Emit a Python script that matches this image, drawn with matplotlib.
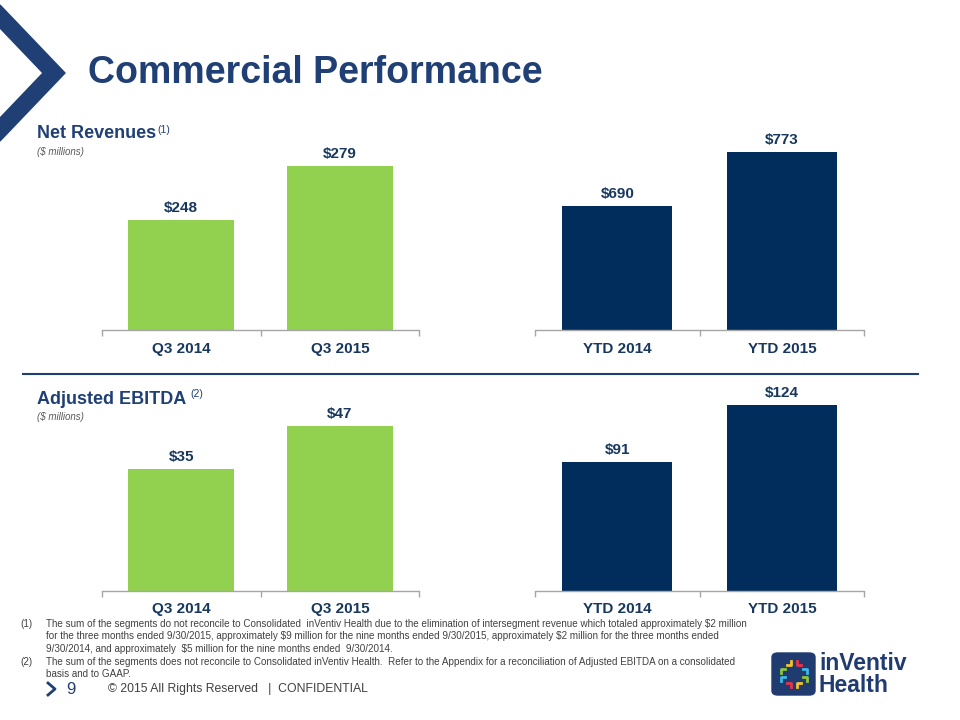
import matplotlib.pyplot as plt
from matplotlib.patches import Polygon, FancyBboxPatch
from matplotlib.lines import Line2D

plt.rcParams['font.family'] = ['Liberation Sans', 'DejaVu Sans']

# data
qtr_labels = ["Q3 2014", "Q3 2015"]
ytd_labels = ["YTD 2014", "YTD 2015"]
rev_qtr = [248, 279]
rev_ytd = [690, 773]
ebitda_qtr = [35, 47]
ebitda_ytd = [91, 124]

NAVY = "#1F3F75"
TXT = "#17375E"
GREEN = "#92D050"
DARK = "#002D5C"

W, H = 960, 720
fig = plt.figure(figsize=(9.6, 7.2), dpi=100)


def px(x, y):
    return x / W, 1 - y / H


def make_ax(left, right, top, bottom, ylim):
    ax = fig.add_axes([left / W, 1 - bottom / H, (right - left) / W, (bottom - top) / H])
    ax.set_xlim(-0.5, 1.5)
    ax.set_ylim(*ylim)
    for s in ["top", "left", "right"]:
        ax.spines[s].set_visible(False)
    ax.spines["bottom"].set_color("#A6A6A6")
    ax.spines["bottom"].set_linewidth(1)
    ax.set_yticks([])
    return ax


def draw(ax, labels, vals, color, pad):
    ax.bar(range(len(vals)), vals, width=0.667, color=color, bottom=0)
    ax.set_xticks(range(len(vals)))
    ax.set_xticklabels(labels, fontsize=11, fontweight="bold", color=TXT)
    ax.tick_params(axis="x", which="major", length=0, pad=pad)
    ax.set_xticks([-0.5, 0.5, 1.5], minor=True)
    ax.tick_params(axis="x", which="minor", length=4, color="#A6A6A6", width=1)
    for i, v in enumerate(vals):
        ax.annotate(f"${v}", (i, v), xytext=(0, 4), textcoords="offset points",
                    ha="center", va="bottom", fontsize=11, fontweight="bold",
                    color=TXT, annotation_clip=False)


ax1 = make_ax(101.7, 419.3, 140, 330, (185.4, 293.9))
draw(ax1, qtr_labels, rev_qtr, GREEN, 9)
ax2 = make_ax(535, 864.3, 140, 330, (501, 791.5))
draw(ax2, ytd_labels, rev_ytd, DARK, 9)
ax3 = make_ax(101.7, 419.3, 395, 591, (1, 55.7))
draw(ax3, qtr_labels, ebitda_qtr, GREEN, 8)
ax4 = make_ax(535, 864.3, 395, 591, (17, 129.8))
draw(ax4, ytd_labels, ebitda_ytd, DARK, 8)

# chevron
chev = [(0, 5), (65, 73), (0, 141), (0, 118), (43, 73), (0, 28)]
fig.patches.append(Polygon([px(*p) for p in chev], closed=True, color=NAVY,
                           transform=fig.transFigure))

fig.text(*px(88, 73), "Commercial Performance", fontsize=27, fontweight="bold",
         color=NAVY, va="center", ha="left")

# section headings
fig.text(*px(37, 133), "Net Revenues", fontsize=13, fontweight="bold", color=NAVY, va="center")
fig.text(*px(157, 130), "(1)", fontsize=7.5, color=NAVY, va="center")
fig.text(*px(37, 152), "($ millions)", fontsize=7, style="italic", color="#595959", va="center")
fig.text(*px(37, 399), "Adjusted EBITDA", fontsize=13, fontweight="bold", color=NAVY, va="center")
fig.text(*px(190, 394), "(2)", fontsize=7.5, color=NAVY, va="center")
fig.text(*px(37, 417), "($ millions)", fontsize=7, style="italic", color="#595959", va="center")

# separator line
fig.lines.append(Line2D([23 / W, 918 / W], [1 - 374 / H] * 2, color=NAVY, lw=1.5,
                        transform=fig.transFigure))

# footnotes
notes = [
    ("(1)", 624, "The sum of the segments do not reconcile to Consolidated  inVentiv Health due to the elimination of intersegment revenue which totaled approximately $2 million"),
    ("", 636, "for the three months ended 9/30/2015, approximately $9 million for the nine months ended 9/30/2015, approximately $2 million for the three months ended"),
    ("", 649, "9/30/2014, and approximately  $5 million for the nine months ended  9/30/2014."),
    ("(2)", 662, "The sum of the segments does not reconcile to Consolidated inVentiv Health.  Refer to the Appendix for a reconciliation of Adjusted EBITDA on a consolidated"),
    ("", 674, "basis and to GAAP."),
]
for tag, y, t in notes:
    if tag:
        fig.text(*px(20, y), tag, fontsize=7.1, color="#404040", va="center")
    fig.text(*px(46, y), t, fontsize=7.1, color="#404040", va="center", parse_math=False)

# footer
fig.lines.append(Line2D([48 / W, 55 / W, 48 / W], [1 - 683 / H, 1 - 689 / H, 1 - 695 / H],
                        color=NAVY, lw=2, transform=fig.transFigure))
fig.text(*px(66, 689), "9", fontsize=12, color=NAVY, va="center")
fig.text(*px(108, 689), "\u00a9 2015 All Rights Reserved   |  CONFIDENTIAL", fontsize=8.8,
         color="#404040", va="center")

# logo
x0, y0, x1, y1 = 772, 653, 815, 695
fig.patches.append(FancyBboxPatch(px(x0, y1), (x1 - x0) / W, (y1 - y0) / H,
                                  boxstyle="round,pad=0,rounding_size=0.006",
                                  color="#1F3B70", transform=fig.transFigure))
cx, cy = (x0 + x1) / 2, (y0 + y1) / 2
pieces = [
    ("#F2C230", [(cx - 3, cy - 13), (cx - 3, cy - 9), (cx - 7, cy - 9)]),
    ("#E8344A", [(cx + 3, cy - 13), (cx + 3, cy - 9), (cx + 7, cy - 9)]),
    ("#3FB8E8", [(cx + 9, cy - 5), (cx + 13, cy - 5), (cx + 13, cy - 1)]),
    ("#8CC63F", [(cx + 9, cy + 3), (cx + 13, cy + 3), (cx + 13, cy + 7)]),
    ("#F2C230", [(cx + 3, cy + 13), (cx + 3, cy + 9), (cx + 7, cy + 9)]),
    ("#E8344A", [(cx - 3, cy + 13), (cx - 3, cy + 9), (cx - 7, cy + 9)]),
    ("#3FB8E8", [(cx - 9, cy + 3), (cx - 13, cy + 3), (cx - 13, cy + 7)]),
    ("#8CC63F", [(cx - 9, cy - 5), (cx - 13, cy - 5), (cx - 13, cy - 1)]),
]
for col, pts in pieces:
    fig.lines.append(Line2D([p[0] / W for p in pts], [1 - p[1] / H for p in pts],
                            color=col, lw=2, transform=fig.transFigure))
fig.text(*px(819, 663), "inVentiv", fontsize=16.5, fontweight="bold", color="#1F3B70", va="center")
fig.text(*px(819, 686), "Health", fontsize=16.5, fontweight="bold", color="#1F3B70", va="center")

fig.savefig("out.png", dpi=100)
